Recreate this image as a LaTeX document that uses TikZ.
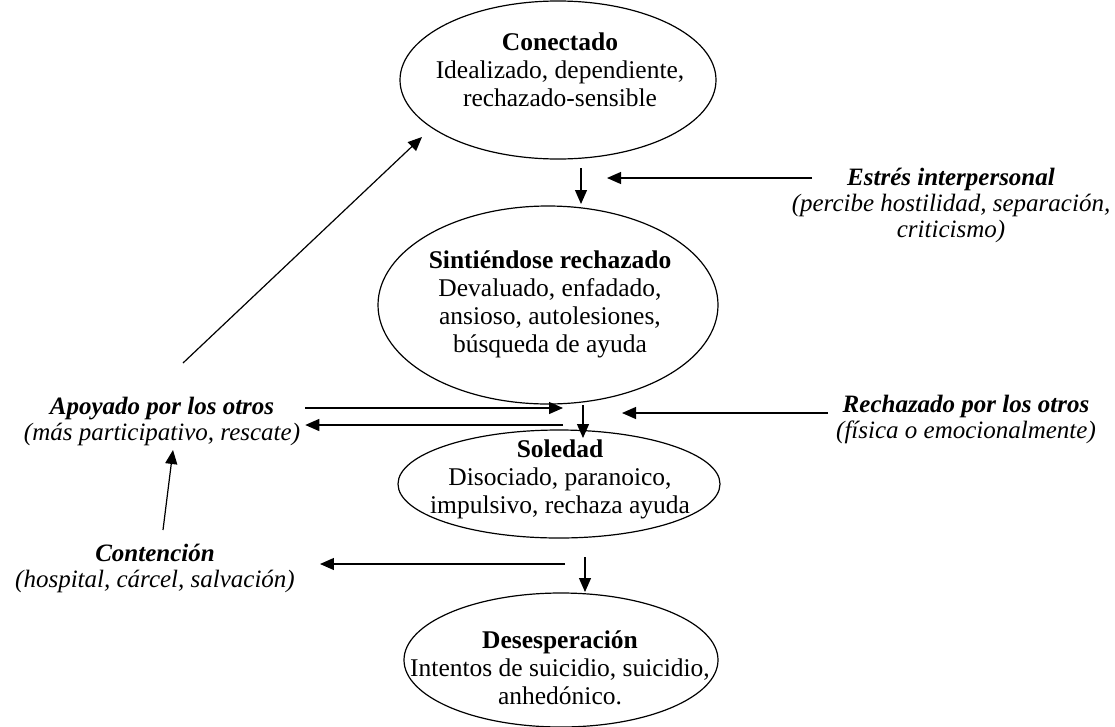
\documentclass[tikz,border=0pt]{standalone}
\usepackage{fontspec}
\setmainfont{Liberation Serif}
\usepackage{tikz}
\usetikzlibrary{arrows.meta,positioning,calc,shapes.geometric}

\begin{document}
\begin{tikzpicture}[x=1pt,y=-1pt,
  every node/.style={font=\fontsize{25.5}{28}\selectfont},
  estado/.style={ellipse,draw,line width=1.2pt,inner sep=0pt},
  txt/.style={align=center,inner sep=0pt},
  sit/.style={align=center,inner sep=0pt,font=\fontsize{25}{26}\selectfont\itshape},
  arr/.style={line width=1.2pt,-{Triangle[length=14pt,width=12pt]}}]
  \useasboundingbox (0,0) rectangle (1115,726);
  % Estados
  \node[estado,minimum width=316pt,minimum height=158pt] (conectado) at (558,80) {};
  \node[estado,minimum width=340pt,minimum height=198pt] (sintiendo) at (548,305) {};
  \node[estado,minimum width=322pt,minimum height=108pt] (soledad) at (559,484) {};
  \node[estado,minimum width=314pt,minimum height=134pt] (desesp) at (561,660) {};
  \node[txt] (conectadoTxt) at (560,70) {\textbf{Conectado}\\Idealizado, dependiente,\\rechazado-sensible};
  \node[txt] (sintiendoTxt) at (550,304) {\textbf{Sintiéndose rechazado}\\Devaluado, enfadado,\\ansioso, autolesiones,\\búsqueda de ayuda};
  \node[txt] (soledadTxt) at (560,479) {\textbf{Soledad}\\Disociado, paranoico,\\impulsivo, rechaza ayuda};
  \node[txt] (desespTxt) at (560,668) {\textbf{Desesperación}\\Intentos de suicidio, suicidio,\\anhedónico.};
  % Situaciones
  \node[sit] (estres) at (951,205) {\textbf{Estrés interpersonal}\\(percibe hostilidad, separación,\\criticismo)};
  \node[sit] (apoyado) at (162,421) {\textbf{Apoyado por los otros}\\(más participativo, rescate)};
  \node[sit] (rechazado) at (966,419) {\textbf{Rechazado por los otros}\\(física o emocionalmente)};
  \node[sit] (contencion) at (155,568) {\textbf{Contención}\\(hospital, cárcel, salvación)};
  % Extremos de flechas
  \coordinate (c1) at (581,168);
  \coordinate (c2) at (581,204);
  \coordinate (e1) at (812,178);
  \coordinate (e2) at (607,178);
  \coordinate (a1) at (183,363);
  \coordinate (a2) at (422,137);
  \coordinate (m1) at (563,408);
  \coordinate (m2) at (563,425);
  \coordinate (s1) at (583,405);
  \coordinate (s2) at (583,438);
  \coordinate (r1) at (828,413);
  \coordinate (r2) at (622,413);
  \coordinate (k1) at (163,530);
  \coordinate (k2) at (173,450);
  \coordinate (d0) at (565,564);
  \coordinate (d1) at (585,557);
  \coordinate (d2) at (585,592);
  % Flechas
  \draw[arr] (c1) -- (c2);
  \draw[arr] (e1) -- (e2);
  \draw[arr] (a1) -- (a2);
  \draw[arr] (apoyado.east |- m1) ++(5,0) -- (m1);
  \draw[arr] (m2) -- ($(apoyado.east |- m2)+(5,0)$);
  \draw[arr] (s1) -- (s2);
  \draw[arr] (r1) -- (r2);
  \draw[arr] (k1) -- (k2);
  \draw[arr] (d0) -- ($(contencion.east |- d0)+(25,0)$);
  \draw[arr] (d1) -- (d2);
\end{tikzpicture}
\end{document}
